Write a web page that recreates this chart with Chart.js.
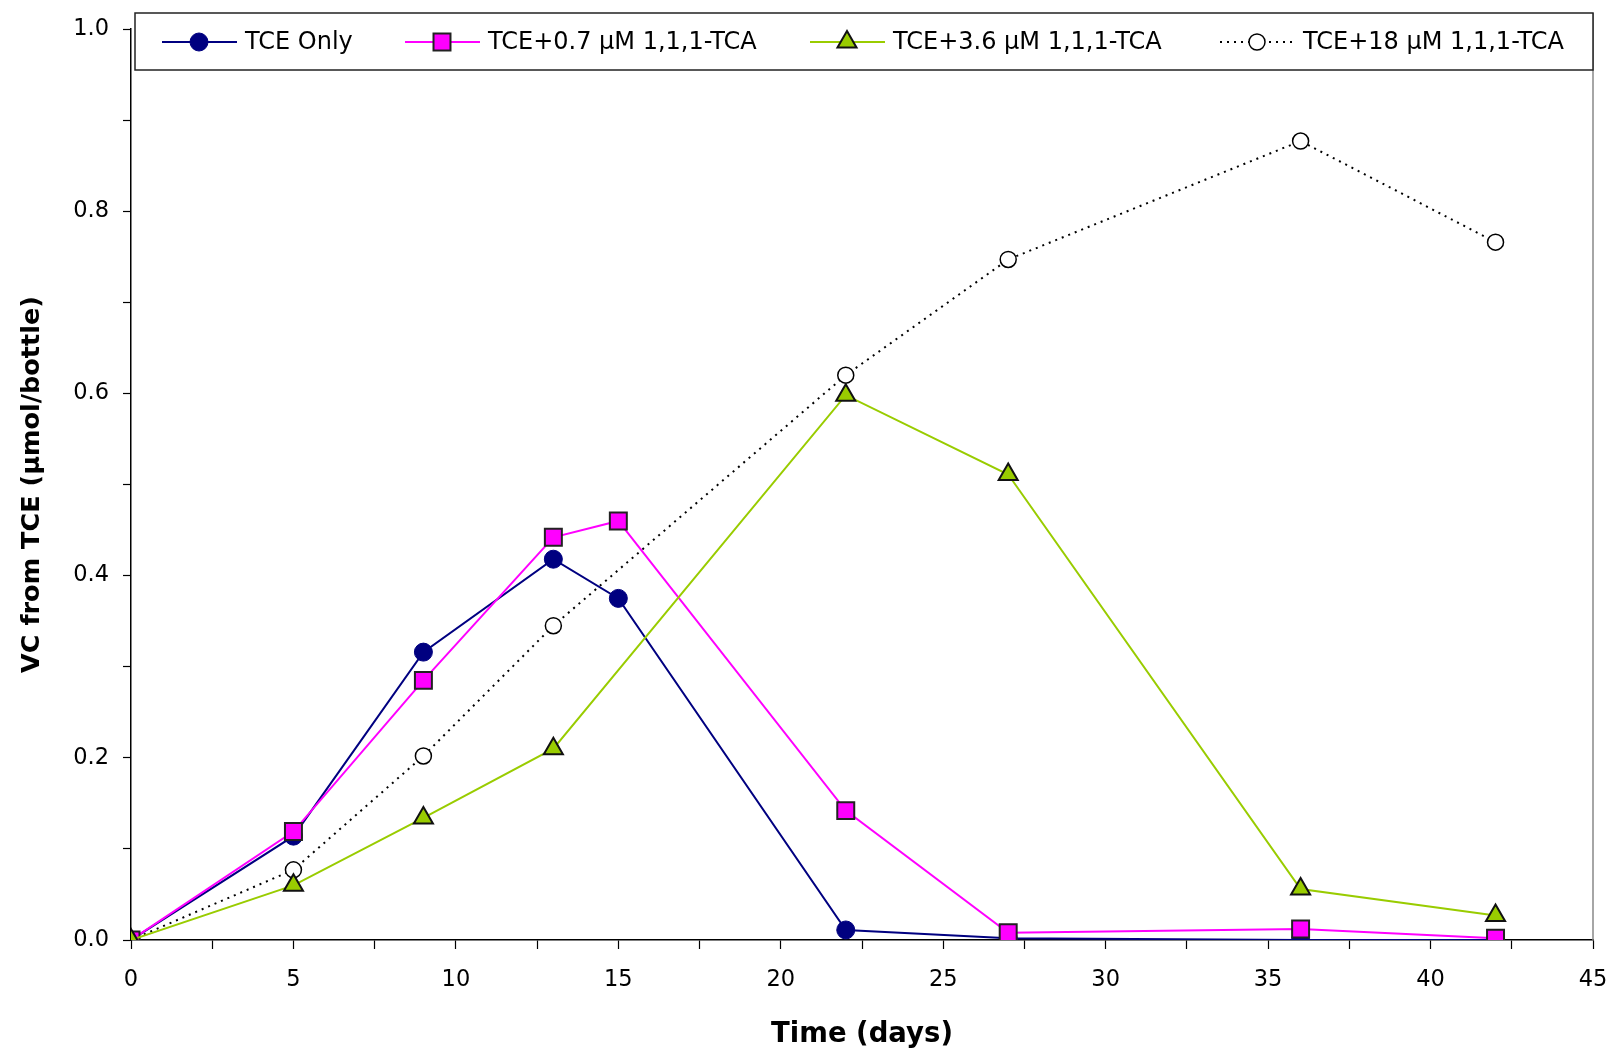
<!DOCTYPE html>
<html>
<head>
<meta charset="utf-8">
<script src="https://cdn.jsdelivr.net/npm/chart.js@4.4.1/dist/chart.umd.min.js"></script>
<style>
  html, body { margin: 0; padding: 0; background: #fff; }
  #wrap { width: 1614px; height: 1051px; }
</style>
</head>
<body>
<div id="wrap"><canvas id="vc-chart" width="1614" height="1051"></canvas></div>
<script>
// days sampled
var daysFull = [0, 5, 9, 13, 15, 22, 27, 36, 42];
var daysShort = [0, 5, 9, 13, 22, 27, 36, 42];

// VC from TCE (umol/bottle)
var tceOnly = [0, 0.114, 0.316, 0.418, 0.375, 0.011, 0.002, 0.0, 0.0];
var tce07 = [0, 0.119, 0.285, 0.442, 0.460, 0.142, 0.008, 0.012, 0.002];
var tce36 = [0, 0.060, 0.134, 0.210, 0.598, 0.511, 0.056, 0.027];
var tce18 = [0, 0.077, 0.202, 0.345, 0.620, 0.747, 0.877, 0.766];

var seriesNames = ["TCE Only", "TCE+0.7 \u00b5M 1,1,1-TCA", "TCE+3.6 \u00b5M 1,1,1-TCA", "TCE+18 \u00b5M 1,1,1-TCA"];

function pts(xs, ys) {
  return xs.map(function (x, i) { return { x: x, y: ys[i] }; });
}

var FONT = "'DejaVu Sans', 'Liberation Sans', sans-serif";

// legend drawn by hand: line + marker + text in one boxed row
var boxLegend = {
  id: "boxLegend",
  afterDraw: function (chart) {
    var ctx = chart.ctx;
    var area = chart.chartArea;
    ctx.save();
    // right border of the plot
    ctx.strokeStyle = "#888";
    ctx.lineWidth = 1.5;
    ctx.beginPath();
    ctx.moveTo(area.right, area.top - 16);
    ctx.lineTo(area.right, area.bottom);
    ctx.stroke();

    // legend box
    var bx = 135, by = 13, bw = area.right - 135, bh = 57;
    ctx.fillStyle = "#fff";
    ctx.fillRect(bx, by, bw, bh);
    ctx.strokeStyle = "#222";
    ctx.lineWidth = 1.5;
    ctx.strokeRect(bx, by, bw, bh);

    var starts = [162, 405, 810, 1220];
    var cy = 42;
    chart.data.datasets.forEach(function (ds, i) {
      var x0 = starts[i];
      ctx.strokeStyle = ds.borderColor;
      ctx.lineWidth = ds.borderWidth;
      ctx.setLineDash(ds.borderDash || []);
      ctx.beginPath();
      ctx.moveTo(x0, cy);
      ctx.lineTo(x0 + 75, cy);
      ctx.stroke();
      ctx.setLineDash([]);
      ctx.fillStyle = ds.pointBackgroundColor;
      ctx.strokeStyle = ds.pointBorderColor;
      ctx.lineWidth = ds.pointBorderWidth;
      Chart.helpers.drawPoint(ctx, {
        pointStyle: ds.pointStyle,
        radius: ds.pointRadius,
        rotation: 0,
        borderWidth: ds.pointBorderWidth
      }, x0 + 37, cy);
      ctx.fillStyle = "#000";
      ctx.font = "24px " + FONT;
      ctx.textBaseline = "middle";
      ctx.textAlign = "left";
      ctx.fillText(ds.label, x0 + 83, cy + 1);
    });
    ctx.restore();
  }
};

var ctx = document.getElementById("vc-chart").getContext("2d");
var chart = new Chart(ctx, {
  type: "line",
  data: {
    datasets: [
      {
        label: seriesNames[0],
        data: pts(daysFull, tceOnly),
        borderColor: "#000080",
        borderWidth: 2,
        pointStyle: "circle",
        pointRadius: 9,
        pointBackgroundColor: "#000080",
        pointBorderColor: "#000080",
        pointBorderWidth: 1,
        order: 3
      },
      {
        label: seriesNames[1],
        data: pts(daysFull, tce07),
        borderColor: "#ff00ff",
        borderWidth: 2,
        pointStyle: "rect",
        pointRadius: 12,
        pointBackgroundColor: "#ff00ff",
        pointBorderColor: "#222",
        pointBorderWidth: 2,
        order: 2
      },
      {
        label: seriesNames[2],
        data: pts(daysShort, tce36),
        borderColor: "#99cc00",
        borderWidth: 2,
        pointStyle: "triangle",
        pointRadius: 11,
        pointBackgroundColor: "#99cc00",
        pointBorderColor: "#111",
        pointBorderWidth: 2,
        order: 1
      },
      {
        label: seriesNames[3],
        data: pts(daysShort, tce18),
        borderColor: "#000",
        borderWidth: 2,
        borderDash: [2, 5],
        pointStyle: "circle",
        pointRadius: 8,
        pointBackgroundColor: "#fff",
        pointBorderColor: "#000",
        pointBorderWidth: 1.5,
        order: 4
      }
    ]
  },
  options: {
    responsive: false,
    animation: false,
    layout: { padding: { top: 29, right: 21, left: 0, bottom: 0 } },
    plugins: {
      legend: { display: false },
      tooltip: { enabled: false }
    },
    elements: { line: { tension: 0 } },
    scales: {
      x: {
        type: "linear",
        min: 0,
        max: 45,
        afterFit: function (s) {
          s.height = 111;
          s.paddingLeft = 0;
          s.paddingRight = 0;
        },
        border: { color: "#000", width: 1.5 },
        grid: { drawOnChartArea: false, drawTicks: true, tickLength: 9, color: "#000", tickWidth: 1.2 },
        ticks: {
          stepSize: 2.5,
          padding: 18,
          color: "#000",
          font: { family: FONT, size: 22.5 },
          autoSkip: false,
          maxRotation: 0,
          callback: function (v) { return v % 5 === 0 ? String(v) : ""; }
        },
        title: {
          display: true,
          text: "Time (days)",
          color: "#000",
          font: { family: FONT, size: 27.5, weight: "bold" },
          padding: { top: 12, bottom: 0 }
        }
      },
      y: {
        min: 0,
        max: 1,
        afterFit: function (s) {
          s.width = 131;
          s.paddingTop = 0;
          s.paddingBottom = 0;
        },
        border: { color: "#000", width: 1.5 },
        grid: { drawOnChartArea: false, drawTicks: true, tickLength: 8, color: "#000", tickWidth: 1.2 },
        ticks: {
          stepSize: 0.1,
          padding: 14,
          color: "#000",
          font: { family: FONT, size: 22.5 },
          autoSkip: false,
          callback: function (v) {
            var k = Math.round(v * 10);
            return k % 2 === 0 ? (k / 10).toFixed(1) : "";
          }
        },
        title: {
          display: true,
          text: "VC from TCE (\u00b5mol/bottle)",
          color: "#000",
          font: { family: FONT, size: 25.5, weight: "bold" },
          padding: { top: 17, bottom: 0 }
        }
      }
    }
  },
  plugins: [boxLegend]
});
</script>
</body>
</html>
